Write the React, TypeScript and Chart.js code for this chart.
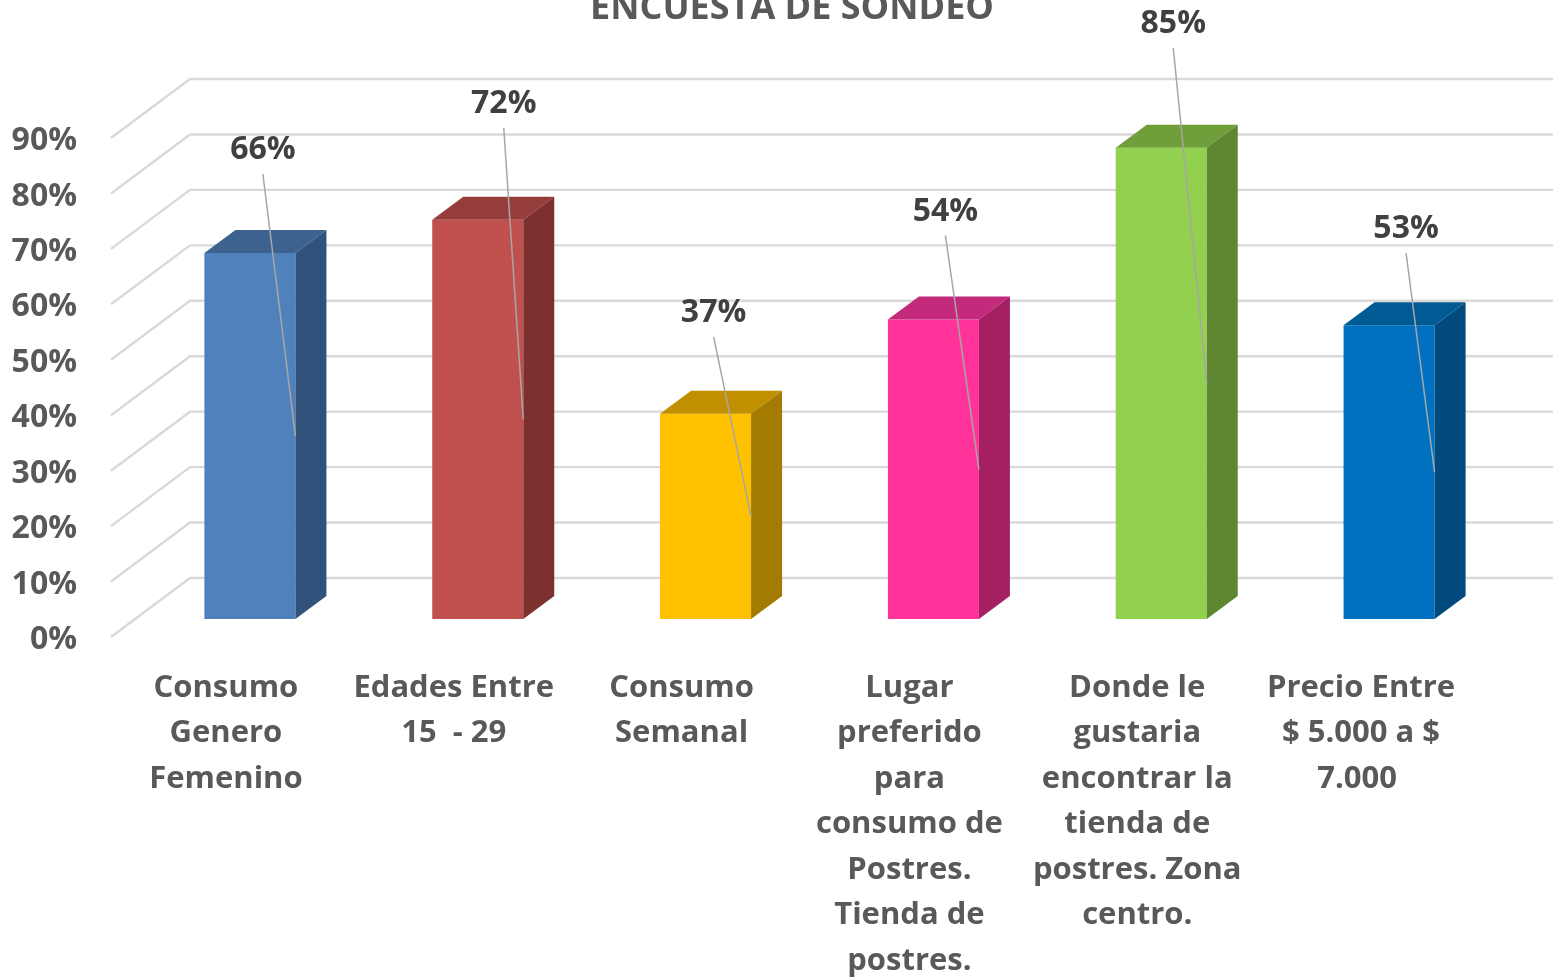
import React, { useEffect, useRef } from "react";
import { Chart, registerables } from "chart.js";

Chart.register(...registerables);

const categories: string[][] = [
  ["Consumo", "Genero", "Femenino"],
  ["Edades Entre", "15  - 29"],
  ["Consumo", "Semanal"],
  ["Lugar", "preferido", "para", "consumo de", "Postres.", "Tienda de", "postres."],
  ["Donde le", "gustaria", "encontrar la", "tienda de", "postres. Zona", "centro."],
  ["Precio Entre ", "$ 5.000 a $ ", "7.000  "],
];
const values = [66, 72, 37, 54, 85, 53];
const frontColors = ["#4F81BD", "#C0504D", "#FFC000", "#FF3399", "#92D050", "#0070C0"];
const topColors = ["#3D6290", "#953D3A", "#C09000", "#C42A7C", "#6F9E3A", "#005A94"];
const sideColors = ["#31527A", "#7C312F", "#A37B00", "#A51F63", "#5F8732", "#004A80"];
const labelShiftX = [13, 26, 8, 12, 12, 17];
const labelShiftY = [103, 116, 101, 108, 124, 96];

const FONT = "'Open Sans', sans-serif";
const DEPTH_X = 31;
const DEPTH_Y = 23;

const scene3d = {
  id: "scene3d",
  afterLayout(chart: any) {
    // The title is centred a little to the right of the canvas centre.
    if (chart.titleBlock) chart.titleBlock.left = 81;
  },
  beforeDatasetsDraw(chart: any) {
    const { ctx, scales } = chart;
    const y = scales.y;
    const left = y.right;
    ctx.save();
    ctx.strokeStyle = "#D9D9D9";
    ctx.lineWidth = 2.4;
    ctx.lineJoin = "miter";
    y.ticks.forEach((t: any) => {
      const py = y.getPixelForValue(t.value);
      ctx.beginPath();
      ctx.moveTo(left - 25, py + 18);
      ctx.lineTo(left + 54, py - 41);
      ctx.lineTo(chart.width, py - 41);
      ctx.stroke();
    });
    ctx.restore();
  },
  afterDatasetsDraw(chart: any) {
    const { ctx } = chart;
    const meta = chart.getDatasetMeta(0);
    ctx.save();
    meta.data.forEach((bar: any, i: number) => {
      const l = bar.x - bar.width / 2;
      const r = bar.x + bar.width / 2;
      const t = bar.y;
      const b = bar.base;
      ctx.fillStyle = topColors[i];
      ctx.beginPath();
      ctx.moveTo(l, t);
      ctx.lineTo(l + DEPTH_X, t - DEPTH_Y);
      ctx.lineTo(r + DEPTH_X, t - DEPTH_Y);
      ctx.lineTo(r, t);
      ctx.closePath();
      ctx.fill();
      ctx.fillStyle = sideColors[i];
      ctx.beginPath();
      ctx.moveTo(r, t);
      ctx.lineTo(r + DEPTH_X, t - DEPTH_Y);
      ctx.lineTo(r + DEPTH_X, b - DEPTH_Y);
      ctx.lineTo(r, b);
      ctx.closePath();
      ctx.fill();
    });
    meta.data.forEach((bar: any, i: number) => {
      const r = bar.x + bar.width / 2;
      const lx = bar.x + labelShiftX[i];
      const ly = bar.y - labelShiftY[i];
      ctx.strokeStyle = "#A6A6A6";
      ctx.lineWidth = 1.5;
      ctx.beginPath();
      ctx.moveTo(lx, ly + 24);
      ctx.lineTo(r, (bar.y + bar.base) / 2);
      ctx.stroke();
      ctx.fillStyle = "#404040";
      ctx.font = `700 32px ${FONT}`;
      ctx.textAlign = "center";
      ctx.textBaseline = "middle";
      ctx.fillText(`${values[i]}%`, lx, ly);
    });
    ctx.restore();
  },
};

export default function App() {
  const ref = useRef<HTMLCanvasElement>(null);
  useEffect(() => {
    const chart = new Chart(ref.current as HTMLCanvasElement, {
      type: "bar",
      data: {
        labels: categories as any,
        datasets: [
          {
            data: values,
            backgroundColor: frontColors,
            barPercentage: 91 / 227.8,
            categoryPercentage: 1,
          },
        ],
      },
      plugins: [scene3d],
      options: {
        animation: false,
        responsive: false,
        layout: { padding: { left: 8, right: 50, top: 0, bottom: 0 } },
        plugins: {
          legend: { display: false },
          tooltip: { enabled: false },
          title: {
            display: true,
            text: "ENCUESTA DE SONDEO",
            color: "#595959",
            font: { family: FONT, size: 36, weight: "bold", lineHeight: 1.2 },
            padding: { top: -12.6, bottom: 89.4 },
          },
        },
        scales: {
          x: {
            grid: { display: false, drawTicks: false },
            border: { display: false },
            afterFit: (s: any) => {
              s.height = 358;
            },
            ticks: {
              autoSkip: false,
              maxRotation: 0,
              minRotation: 0,
              labelOffset: -24,
              padding: 46,
              color: "#595959",
              font: { family: FONT, size: 31, weight: "bold", lineHeight: 1.47 },
            },
          },
          y: {
            min: 0,
            max: 90,
            grid: { display: false, drawTicks: false },
            border: { display: false },
            afterFit: (s: any) => {
              s.width = 128;
            },
            ticks: {
              stepSize: 10,
              padding: 59,
              labelOffset: 21,
              color: "#595959",
              font: { family: FONT, size: 32, weight: "bold" },
              callback: (v: any) => `${v}%`,
            },
          },
        },
      } as any,
    });
    return () => chart.destroy();
  }, []);
  return (
    <canvas
      ref={ref}
      width={1553}
      height={977}
      style={{ position: "absolute", left: 0, top: 0, width: 1553, height: 977 }}
    />
  );
}
